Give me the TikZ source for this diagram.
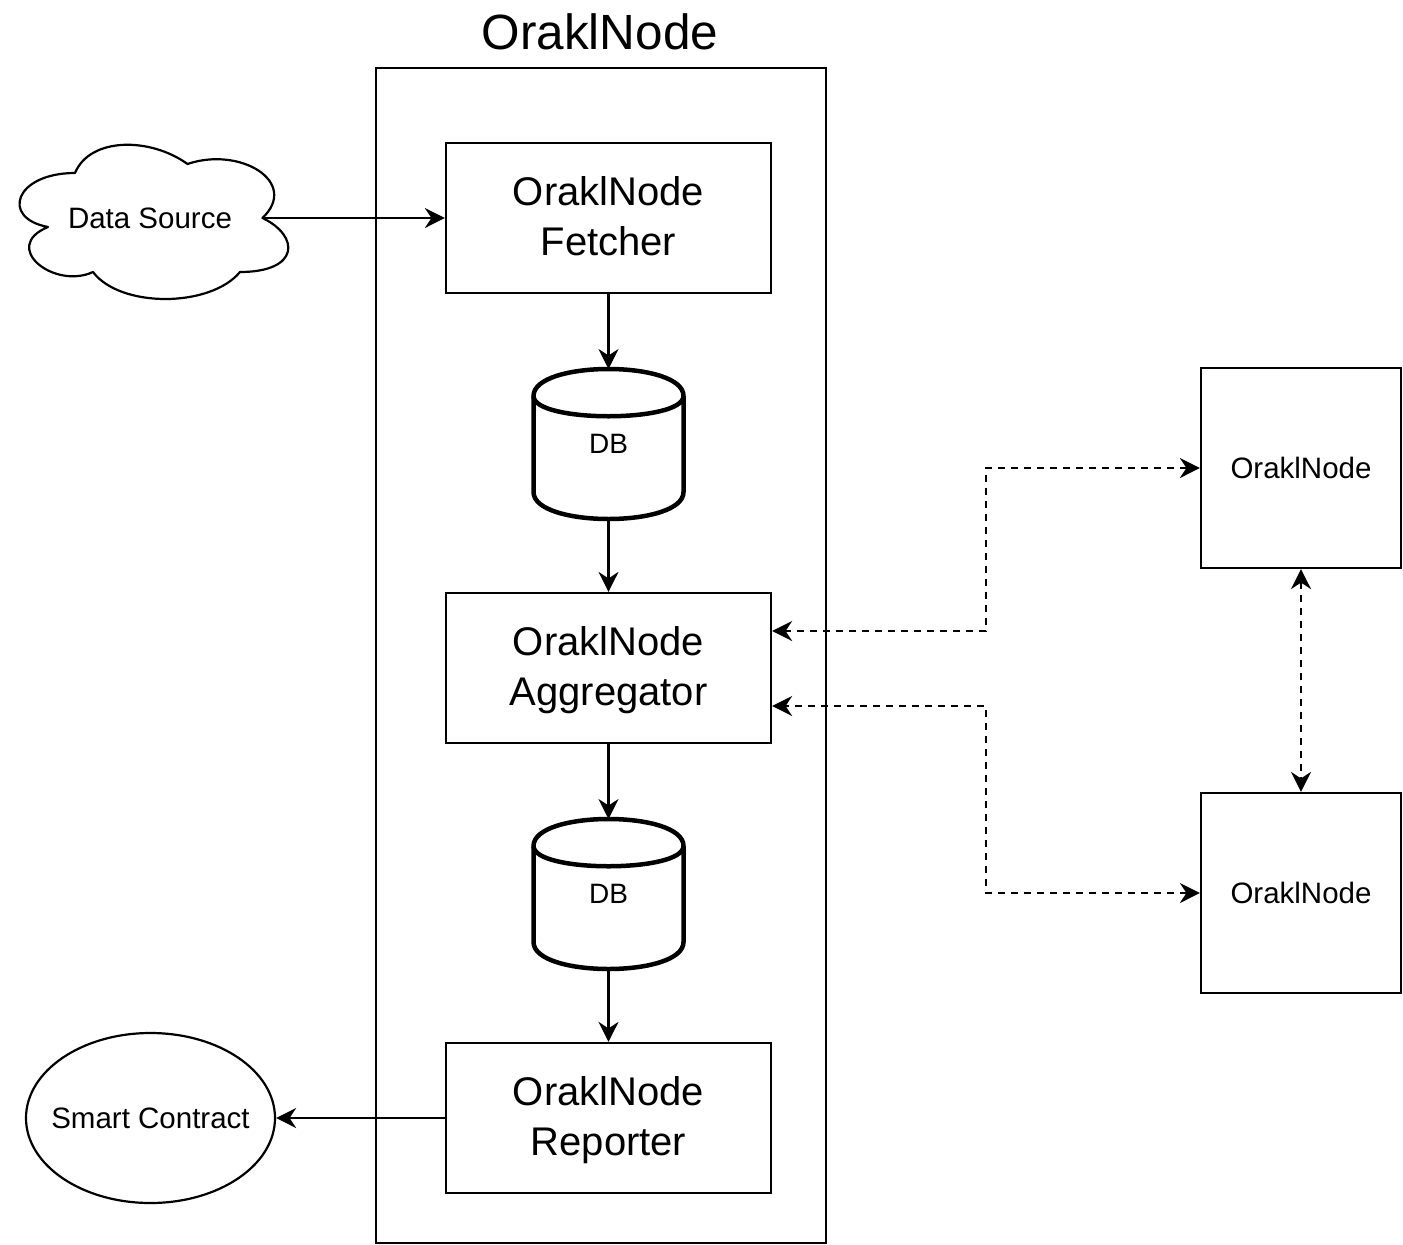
\documentclass[tikz,border=0pt]{standalone}
\usepackage{fontspec}
\setmainfont{Liberation Sans}
\usetikzlibrary{arrows.meta,shapes.geometric,calc}
\newcommand\drawcylinder[1]{%
  \begin{scope}[shift={(#1.north west)}]
    \draw[cylline] (0,27) .. controls (0,-9) and (150,-9) .. (150,27) -- (150,123)
      .. controls (150,159) and (0,159) .. (0,123) -- cycle;
    \draw[cylline] (0,27) .. controls (0,54) and (150,54) .. (150,27);
  \end{scope}}
\begin{document}
\begin{tikzpicture}[x=1pt,y=-1pt,
  tip/.tip={Stealth[length=20pt,width=20pt,inset=6.5pt]},
  box/.style={draw, line width=2.2pt, minimum width=325pt, minimum height=150pt,
    inner sep=0pt, font=\fontsize{40}{50}\selectfont, align=center, text depth=4pt},
  rbox/.style={draw, line width=2.2pt, minimum width=200pt, minimum height=200pt,
    inner sep=0pt, font=\fontsize{29.5}{35}\selectfont},
  dbnode/.style={minimum width=150pt, minimum height=150pt, inner sep=0pt,
    outer sep=0pt, font=\fontsize{28}{34}\selectfont},
  cylline/.style={line width=4.5pt, line join=round},
  outerbox/.style={draw, line width=2.2pt, minimum width=450pt, minimum height=1175pt,
    inner sep=0pt},
  arr/.style={line width=2.2pt, -tip},
  darr/.style={line width=2.2pt, dash pattern=on 7pt off 6pt, tip-tip},
  small/.style={font=\fontsize{29.5}{35}\selectfont, inner sep=0pt}]
\useasboundingbox (0,0) rectangle (1403,1245);

\node[font=\fontsize{49.5}{55}\selectfont, inner sep=0pt] (title) at (600,32) {OraklNode};
\node[outerbox] (outer) at (601,655.5) {};

\node[box] (fetcher) at (608.5,218) {OraklNode\\Fetcher};
\node[box] (agg) at (608.5,668) {OraklNode\\Aggregator};
\node[box] (rep) at (608.5,1118) {OraklNode\\Reporter};

\node[dbnode] (db1) at (608.5,444) {DB};
\drawcylinder{db1}
\node[dbnode] (db2) at (608.5,894) {DB};
\drawcylinder{db2}

% cloud
\node[small, minimum width=225pt, minimum height=180pt, outer sep=0pt] (ds) at (150,218) {Data Source};
\begin{scope}[shift={(ds.center)}]
  \draw[line width=2.2pt, line join=round]
    (-75,-45) .. controls (-135,-45) and (-150,0) .. (-102,9)
    .. controls (-150,28.8) and (-96,72) .. (-57,54)
    .. controls (-30,90) and (60,90) .. (90,54)
    .. controls (150,54) and (150,18) .. (112.5,0)
    .. controls (150,-36) and (90,-72) .. (37.5,-54)
    .. controls (0,-81) and (-60,-81) .. (-75,-45) -- cycle;
\end{scope}

\node[draw, ellipse, line width=2.2pt, inner sep=0pt, minimum width=249pt, minimum height=170pt] (sc) at (150.5,1118) {};
\node[small] (sctext) at (sc.center) {Smart Contract};

\node[rbox] (n1) at (1301,468) {OraklNode};
\node[rbox] (n2) at (1301,893) {OraklNode};

% connectors
\draw[arr] (ds.east) -- (fetcher.west);
\draw[arr] (fetcher.south) -- (db1.north);
\draw[arr] (db1.south) -- (agg.north);
\draw[arr] (agg.south) -- (db2.north);
\draw[arr] (db2.south) -- (rep.north);
\draw[arr] (rep.west) -- (sc.east);

\draw[darr] (n1.west) -- ++(-214,0) |- ([yshift=37pt]agg.east);
\draw[darr] (n2.west) -- ++(-214,0) |- ([yshift=-38pt]agg.east);
\draw[darr] (n1.south) -- (n2.north);
\end{tikzpicture}
\end{document}
